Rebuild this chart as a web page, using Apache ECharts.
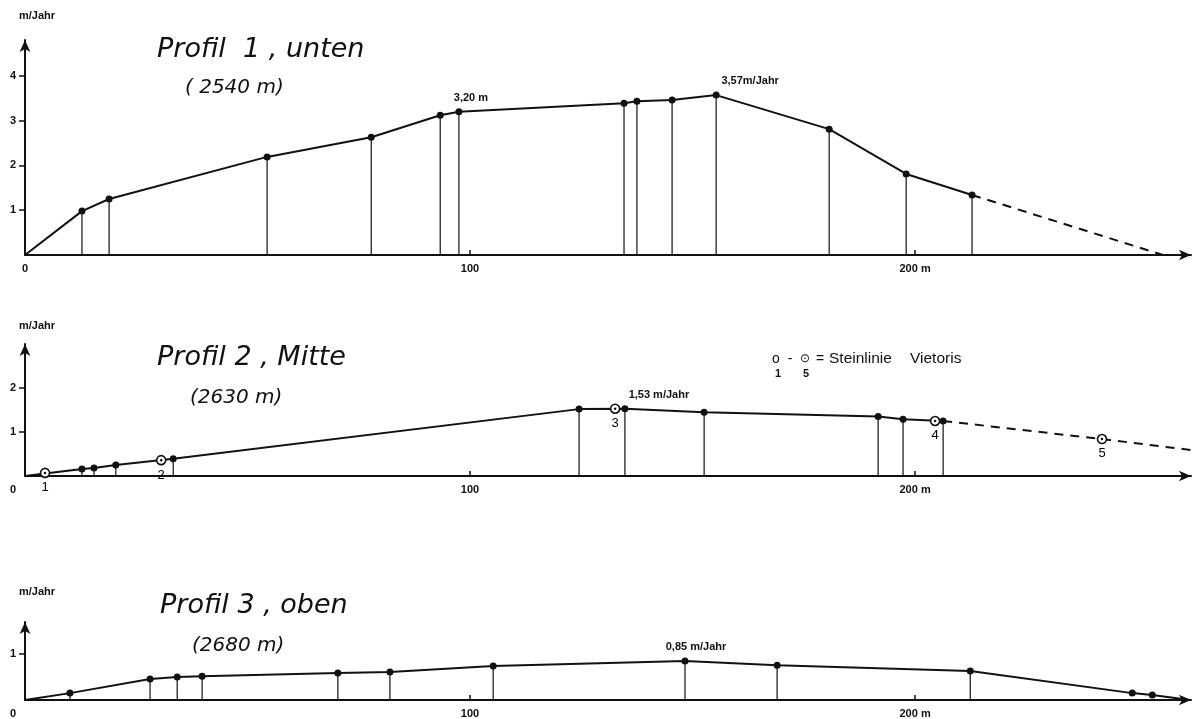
<!DOCTYPE html>
<html><head><meta charset="utf-8">
<script src="https://cdn.jsdelivr.net/npm/echarts@6/dist/echarts.min.js"></script>
<style>html,body{margin:0;padding:0;background:#fff}#c{width:1200px;height:719px}</style>
</head><body><div id="c"></div>
<script>
// ---------- data ----------
const xTickValues = [0, 100, 200];
const xTickLabels = ['0', '100', '200 m'];

// Profil 1, unten
const p1X = [0, 12.8, 18.9, 54.4, 77.8, 93.3, 97.5, 134.6, 137.5, 145.4, 155.3, 180.7, 198.0, 212.8];
const p1Y = [0, 0.98, 1.25, 2.19, 2.63, 3.12, 3.20, 3.39, 3.43, 3.46, 3.57, 2.81, 1.81, 1.34];
const p1DashX = [212.8, 255.7];
const p1DashY = [1.34, 0];
const p1Ticks = [1, 2, 3, 4];
const p1Notes = {6: '3,20 m', 10: '3,57m/Jahr'};

// Profil 2, Mitte
const p2X = [0, 12.8, 15.5, 20.4, 33.3, 124.5, 134.8, 152.6, 191.7, 197.3, 206.3];
const p2Y = [0, 0.16, 0.18, 0.25, 0.39, 1.52, 1.53, 1.45, 1.35, 1.29, 1.25];
const p2DashX = [206.3, 242.0, 262.0];
const p2DashY = [1.25, 0.84, 0.59];
const p2StoneX = [4.5, 30.6, 132.6, 204.5, 242.0];
const p2StoneY = [0.07, 0.36, 1.53, 1.25, 0.84];
const p2StoneNames = ['1', '2', '3', '4', '5'];
const p2Ticks = [1, 2];
const p2Notes = {6: '1,53 m/Jahr'};

// Profil 3, oben
const p3X = [0, 10.1, 28.1, 34.2, 39.8, 70.3, 82.0, 105.2, 148.3, 169.0, 212.4, 248.8, 253.3, 261.8];
const p3Y = [0, 0.15, 0.46, 0.50, 0.52, 0.59, 0.61, 0.74, 0.85, 0.76, 0.63, 0.15, 0.11, 0];
const p3DropCount = 10; // points 1..10 carry a vertical line
const p3Ticks = [1];
const p3Notes = {8: '0,85 m/Jahr'};

const titles = ['Profil  1 , unten', 'Profil 2 , Mitte', 'Profil 3 , oben'];
const heights = ['( 2540 m)', '(2630 m)', '(2680 m)'];
const yUnit = 'm/Jahr';
const legendSymbols = ['o', '-', '⊙', '='];
const legendWords = ['Steinlinie', 'Vietoris'];
const legendNums = ['1', '5'];

// ---------- chart ----------
const INK = '#111';
const FONT = '"Liberation Sans", Arial, sans-serif';
const TFONT = '"DejaVu Sans", sans-serif';
const zip = (a, b) => a.map((v, i) => [v, b[i]]);

const grids = [
  {left: 25, width: 1166, top: 40, height: 215},
  {left: 25, width: 1166, top: 344, height: 132},
  {left: 25, width: 1166, top: 622, height: 78}
];
const yMax = [4.8, 3, 1.7];
const yTicks = [p1Ticks, p2Ticks, p3Ticks];

const xAxes = grids.map((g, i) => ({
  type: 'value', gridIndex: i, min: 0, max: 262,
  axisLine: {show: true, symbol: ['none', 'arrow'], symbolSize: [8, 12], lineStyle: {color: INK, width: 2}},
  axisTick: {show: true, inside: true, length: 5, customValues: xTickValues.slice(1), lineStyle: {color: INK, width: 1.5}},
  axisLabel: {
    customValues: xTickValues, margin: 8, color: INK, fontSize: 11, fontFamily: FONT, fontWeight: 'bold',
    formatter: v => { const k = xTickValues.indexOf(v); const t = k >= 0 ? xTickLabels[k] : ''; return (v === 0 && i > 0) ? '{z|' + t + '}' : t; },
    rich: {z: {padding: [0, 24, 0, 0], fontSize: 11, fontWeight: 'bold', color: INK}}
  },
  splitLine: {show: false}
}));
const yAxes = grids.map((g, i) => ({
  type: 'value', gridIndex: i, min: 0, max: yMax[i],
  axisLine: {show: true, symbol: ['none', 'arrow'], symbolSize: [8, 12], lineStyle: {color: INK, width: 2}},
  axisTick: {show: true, inside: false, length: 6, customValues: yTicks[i], lineStyle: {color: INK, width: 1.5}},
  axisLabel: {customValues: yTicks[i], margin: 9, color: INK, fontSize: 11, fontFamily: FONT, fontWeight: 'bold'},
  splitLine: {show: false}
}));

function dropRender(params, api) {
  const x = api.value(0), y = api.value(1);
  const a = api.coord([x, y]);
  const b = api.coord([x, 0]);
  return {type: 'line', shape: {x1: a[0], y1: a[1], x2: b[0], y2: b[1]}, style: {stroke: INK, lineWidth: 1.2}};
}

function mainLine(i, xs, ys, notes, offsets) {
  return {
    type: 'line', xAxisIndex: i, yAxisIndex: i, z: 3,
    symbol: 'circle', symbolSize: 7, showAllSymbol: true,
    itemStyle: {color: INK}, lineStyle: {color: INK, width: 2},
    data: xs.map((x, k) => {
      const d = {value: [x, ys[k]]};
      if (k === 0) d.symbol = 'none';
      if (notes[k]) d.label = {show: true, position: 'top', distance: 5, offset: offsets[k], formatter: notes[k],
        color: INK, fontSize: 11, fontFamily: FONT, fontWeight: 'bold'};
      return d;
    }),
    animation: false
  };
}
function dashLine(i, xs, ys) {
  return {type: 'line', xAxisIndex: i, yAxisIndex: i, symbol: 'none', z: 2,
    lineStyle: {color: INK, width: 2, type: [9, 7]}, data: zip(xs, ys), animation: false};
}
function drops(i, pts) {
  return {type: 'custom', xAxisIndex: i, yAxisIndex: i, z: 1, renderItem: dropRender,
    encode: {x: 0, y: 1}, data: pts, animation: false};
}

const series = [
  drops(0, zip(p1X, p1Y).slice(1)),
  mainLine(0, p1X, p1Y, p1Notes, {6: [12, 0], 10: [34, 0]}),
  dashLine(0, p1DashX, p1DashY),

  drops(1, zip(p2X, p2Y).slice(1)),
  mainLine(1, p2X, p2Y, p2Notes, {6: [34, 0]}),
  dashLine(1, p2DashX, p2DashY),
  {type: 'scatter', xAxisIndex: 1, yAxisIndex: 1, z: 5, symbol: 'circle', symbolSize: 9,
    itemStyle: {color: '#fff', borderColor: INK, borderWidth: 1.6, opacity: 1},
    label: {show: true, position: 'bottom', distance: 3, color: '#000', fontSize: 13, fontFamily: FONT,
      formatter: p => p2StoneNames[p.dataIndex]},
    emphasis: {disabled: true},
    data: zip(p2StoneX, p2StoneY), animation: false},
  {type: 'scatter', xAxisIndex: 1, yAxisIndex: 1, z: 6, symbol: 'circle', symbolSize: 2.5,
    itemStyle: {color: INK, opacity: 1}, data: zip(p2StoneX, p2StoneY), animation: false},

  drops(2, zip(p3X, p3Y).slice(1, 1 + p3DropCount)),
  mainLine(2, p3X, p3Y, p3Notes, {8: [11, 0]})
];
// last point of profil 3 has no dot
series[series.length - 1].data[p3X.length - 1].symbol = 'none';

const titleY = [50, 358, 606];
const heightY = [87, 397, 645];
const titleX = [157, 157, 160];
const heightX = [185, 190, 192];
const unitY = [17, 327, 593];
const graphic = [];
for (let i = 0; i < 3; i++) {
  graphic.push({type: 'text', left: titleX[i], top: titleY[i] - 14, z: 10,
    style: {text: titles[i], fontSize: 27, fontStyle: 'italic', fontFamily: TFONT, fill: INK}});
  graphic.push({type: 'text', left: heightX[i], top: heightY[i] - 9, z: 10,
    style: {text: heights[i], fontSize: 20, fontStyle: 'italic', fontFamily: TFONT, fill: INK}});
  graphic.push({type: 'text', left: 19, top: unitY[i] - 7, z: 10,
    style: {text: yUnit, fontSize: 11, fontWeight: 'bold', fontFamily: FONT, fill: INK}});
}
const legSymX = [776, 790, 805, 820];
legendSymbols.forEach((s, k) => graphic.push({type: 'text', x: legSymX[k], y: 359, z: 10,
  style: {text: s, fontSize: k === 2 ? 12 : 14, fontFamily: FONT, fill: INK, align: 'center', verticalAlign: 'middle'}}));
const legWordX = [829, 910];
legendWords.forEach((s, k) => graphic.push({type: 'text', x: legWordX[k], y: 359, z: 10,
  style: {text: s, fontSize: 15.5, fontFamily: FONT, fill: INK, align: 'left', verticalAlign: 'middle'}}));
const legNumX = [778, 806];
legendNums.forEach((s, k) => graphic.push({type: 'text', x: legNumX[k], y: 374, z: 10,
  style: {text: s, fontSize: 11, fontWeight: 'bold', fontFamily: FONT, fill: INK, align: 'center', verticalAlign: 'middle'}}));

const chart = echarts.init(document.getElementById('c'), null, {renderer: 'canvas'});
chart.setOption({
  backgroundColor: '#fff',
  animation: false,
  grid: grids,
  xAxis: xAxes,
  yAxis: yAxes,
  series: series,
  graphic: graphic
});
</script>
</body></html>
